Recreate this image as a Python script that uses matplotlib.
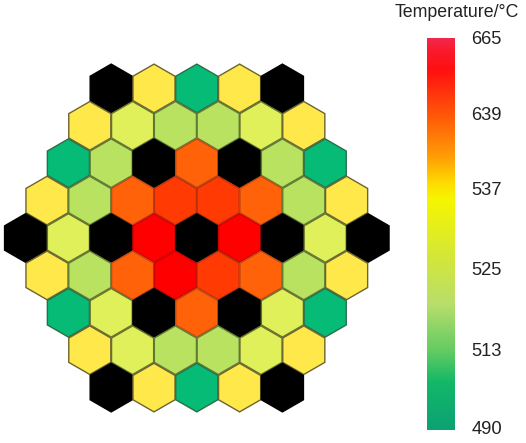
import numpy as np
import matplotlib
matplotlib.use("Agg")
import matplotlib.pyplot as plt
from matplotlib.colors import LinearSegmentedColormap
from matplotlib.patches import RegularPolygon

plt.rcParams["font.family"] = ["Liberation Sans", "DejaVu Sans"]

# Core map, one string per row, K = black assembly
core_rows = [
    "KYGYK",
    "YLAALY",
    "GAKOKAG",
    "YAOTTOAY",
    "KLKRKRKLK",
    "YAORTOAY",
    "GLKOKLG",
    "YLAALY",
    "KYGYK",
]
cell_colors = {
    "K": "#000000",
    "Y": "#ffe84a",
    "L": "#dff05a",
    "A": "#b9e261",
    "G": "#05bb75",
    "O": "#ff6208",
    "T": "#ff3a02",
    "R": "#fe0000",
}
cell_edges = {
    "K": "#000000",
    "Y": "#6b6430",
    "L": "#66702c",
    "A": "#5f7a32",
    "G": "#2b6f48",
    "O": "#c24a10",
    "T": "#b5300c",
    "R": "#d00000",
}

tick_labels = ["665", "639", "537", "525", "513", "490"]
tick_fracs = [0.003, 0.197, 0.388, 0.592, 0.80, 1.0]

bar_fracs = [0.0, 0.03, 0.08, 0.20, 0.30, 0.37, 0.41, 0.55, 0.68, 0.80, 0.88, 1.0]
bar_colors = ["#f0284c", "#fa1a2c", "#ff1010", "#ff5a08", "#ff9c06", "#ffdc00", "#f6f600",
              "#d6e835", "#b8de6c", "#62cb62", "#12b868", "#0ca274"]

# layout in pixels of the 526x443 picture
W, H = 526, 443
cx, cy = 196.8, 238
dx, dy = 42.8, 37.4
radius = 24.3
bar_x0, bar_x1 = 426.5, 454.5
bar_y0, bar_y1 = 38, 430

fig = plt.figure(figsize=(W / 100, H / 100), dpi=100)
ax = fig.add_axes([0, 0, 1, 1])
ax.set_xlim(0, W)
ax.set_ylim(H, 0)
ax.axis("off")

n_rows = len(core_rows)
for r, row in enumerate(core_rows):
    y = cy + (r - (n_rows - 1) / 2) * dy
    for c, code in enumerate(row):
        x = cx + (c - (len(row) - 1) / 2) * dx
        ax.add_patch(RegularPolygon((x, y), 6, radius=radius, orientation=0,
                                    facecolor=cell_colors[code], edgecolor=cell_edges[code],
                                    linewidth=1.0))

cmap = LinearSegmentedColormap.from_list("temp", list(zip(bar_fracs, bar_colors)))
ax.imshow(np.linspace(0, 1, 256).reshape(-1, 1), cmap=cmap, aspect="auto",
          extent=[bar_x0, bar_x1, bar_y1, bar_y0], zorder=2)
ax.set_xlim(0, W)
ax.set_ylim(H, 0)

for lab, frac in zip(tick_labels, tick_fracs):
    ax.text(471.5, bar_y0 + frac * (bar_y1 - bar_y0), lab, fontsize=13.2, color="#222222",
            ha="left", va="center")
ax.text(456.5, 12, "Temperature/°C", fontsize=12.8, color="#222222", ha="center", va="center")

fig.savefig("out.png", dpi=100)
plt.close(fig)
